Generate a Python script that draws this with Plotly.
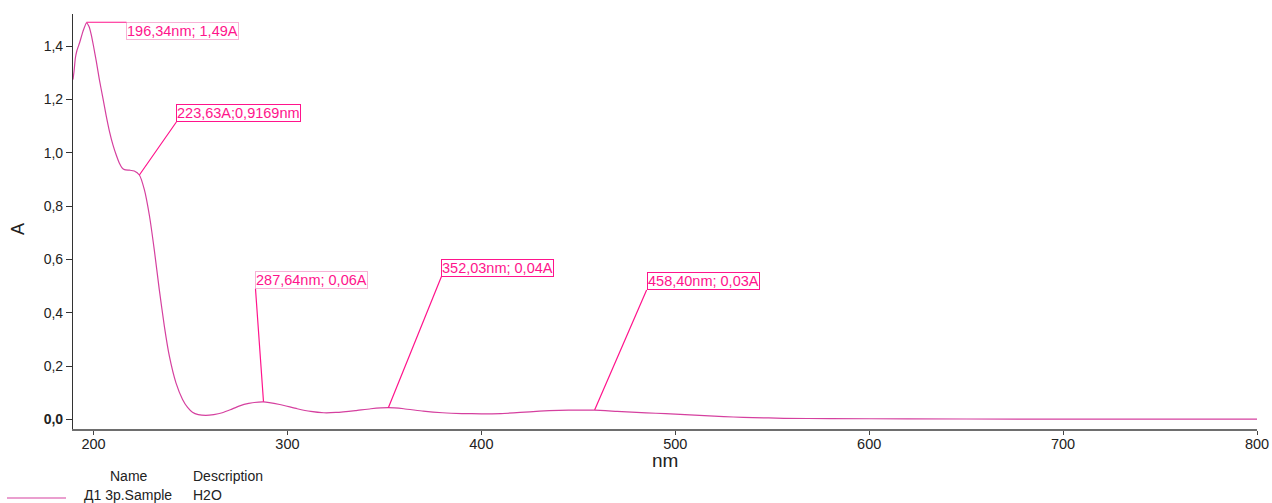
import plotly.graph_objects as go

# ---- data ----
wavelength_nm = [189.4, 190.0, 190.6, 191.4, 192.8, 194.5, 196.34, 197.6, 198.8, 200.0, 201.4,
                 203.0, 204.8, 206.5, 208.2, 210.0, 211.7, 213.4, 214.6, 216.0, 218.5, 221.0,
                 223.63, 226.2, 228.8, 231.3, 233.9, 236.5, 239.1, 242.5, 245.9, 248.5, 251.0,
                 254.0, 257.9, 262.0, 266.4, 270.5, 275.0, 280.0, 287.64, 296.0, 305.0, 312.0,
                 318.7, 325.0, 335.0, 343.0, 352.03, 360.0, 370.0, 380.0, 390.0, 400.0, 410.0,
                 420.0, 430.0, 440.0, 450.0, 458.4, 470.0, 480.0, 490.0, 500.0, 510.0, 520.0,
                 530.0, 540.0, 556.0, 580.0, 620.0, 680.0, 740.0, 800.0]
absorbance = [1.275, 1.31, 1.355, 1.383, 1.413, 1.455, 1.488, 1.475, 1.444, 1.40, 1.344,
              1.275, 1.206, 1.14, 1.081, 1.03, 0.992, 0.960, 0.945, 0.937, 0.935, 0.932,
              0.917, 0.862, 0.765, 0.637, 0.487, 0.350, 0.237, 0.137, 0.075, 0.045, 0.027,
              0.018, 0.015, 0.018, 0.025, 0.036, 0.050, 0.060, 0.066, 0.056, 0.040, 0.030,
              0.025, 0.026, 0.033, 0.040, 0.044, 0.040, 0.031, 0.025, 0.022, 0.021, 0.022,
              0.026, 0.031, 0.034, 0.035, 0.035, 0.030, 0.026, 0.023, 0.020, 0.016, 0.012,
              0.009, 0.007, 0.004, 0.003, 0.002, 0.001, 0.001, 0.001]

peak_nm = [196.34, 223.63, 287.64, 352.03, 458.40]
peak_A = [1.49, 0.9169, 0.066, 0.044, 0.035]
peak_labels = ["196,34nm; 1,49A", "223,63A;0,9169nm", "287,64nm; 0,06A",
               "352,03nm; 0,04A", "458,40nm; 0,03A"]

x_ticks = [200, 300, 400, 500, 600, 700, 800]
x_ticktext = ["200", "300", "400", "500", "600", "700", "800"]
y_ticks = [0.0, 0.2, 0.4, 0.6, 0.8, 1.0, 1.2, 1.4]
y_ticktext = ["<b>0,0</b>", "0,2", "0,4", "0,6", "0,8", "1,0", "1,2", "1,4"]

legend_name = "Д1 3р.Sample"
legend_desc = "H2O"

# ---- layout constants ----
W, H = 1272, 503
ML, MR, MT, MB = 73, 15, 14, 74
PW, PH = W - ML - MR, H - MT - MB

CURVE = "#d5409f"
PINK = "#ff148c"
LIGHT = "#f7b3d6"
FONT = "Liberation Sans, Arial, sans-serif"


def px_x(p):
    return (p - ML) / PW


def px_y(p):
    return (H - MB - p) / PH


fig = go.Figure()
fig.add_trace(go.Scatter(x=wavelength_nm, y=absorbance, mode="lines",
                         line=dict(color=CURVE, width=1.2, shape="spline", smoothing=0.5),
                         showlegend=False, hoverinfo="x+y"))

# annotation offsets (pixels) and box styles
offsets = [(40, 0), (37, -53), (-8, -113), (53, -131), (52, -120)]
yanchors = ["top", "bottom", "bottom", "bottom", "bottom"]
borders = [LIGHT, PINK, LIGHT, PINK, PINK]

annotations = []
for i in range(len(peak_nm)):
    annotations.append(dict(
        x=peak_nm[i], y=peak_A[i], xref="x", yref="y",
        text=peak_labels[i], showarrow=True, arrowhead=0, arrowwidth=1.2,
        arrowcolor=PINK, ax=offsets[i][0], ay=offsets[i][1],
        xanchor="left", yanchor=yanchors[i],
        font=dict(family=FONT, size=14.5, color=PINK),
        bordercolor=borders[i], borderwidth=1, borderpad=0, bgcolor="white"))

# axis titles
annotations.append(dict(x=px_x(18), y=px_y(229), xref="paper", yref="paper", text="A",
                        textangle=-90, showarrow=False, xanchor="center", yanchor="middle",
                        font=dict(family=FONT, size=18, color="#222")))
annotations.append(dict(x=px_x(665), y=px_y(460), xref="paper", yref="paper", text="nm",
                        showarrow=False, xanchor="center", yanchor="middle",
                        font=dict(family=FONT, size=19, color="#222")))

# legend table
leg_font = dict(family=FONT, size=14, color="#222")
annotations += [
    dict(x=px_x(129), y=px_y(476), xref="paper", yref="paper", text="Name",
         showarrow=False, xanchor="center", yanchor="middle", font=leg_font),
    dict(x=px_x(191), y=px_y(476), xref="paper", yref="paper", text="Description",
         showarrow=False, xanchor="left", yanchor="middle", font=leg_font),
    dict(x=px_x(82), y=px_y(495), xref="paper", yref="paper", text=legend_name,
         showarrow=False, xanchor="left", yanchor="middle", font=leg_font),
    dict(x=px_x(191), y=px_y(495), xref="paper", yref="paper", text=legend_desc,
         showarrow=False, xanchor="left", yanchor="middle", font=leg_font),
]

shapes = [dict(type="line", xref="paper", yref="paper", x0=px_x(7), x1=px_x(66),
               y0=px_y(498), y1=px_y(498), line=dict(color=CURVE, width=1.2))]

fig.update_layout(
    width=W, height=H, margin=dict(l=ML, r=MR, t=MT, b=MB, pad=0, autoexpand=False),
    paper_bgcolor="white", plot_bgcolor="white",
    separators=", ",
    font=dict(family=FONT, size=14, color="#222"),
    annotations=annotations, shapes=shapes, showlegend=False,
    xaxis=dict(range=[189.4, 800], tickvals=x_ticks, ticktext=x_ticktext,
               automargin=False,
               showgrid=False, zeroline=False, showline=True, linecolor="#6e6e6e",
               linewidth=2, ticks="outside", ticklen=4, tickcolor="#444", tickwidth=1,
               ticklabelstandoff=-3,
               tickfont=dict(family=FONT, size=14.5, color="#222")),
    yaxis=dict(range=[-0.036, 1.521], tickvals=y_ticks, ticktext=y_ticktext,
               automargin=False,
               showgrid=False, zeroline=False, showline=True, linecolor="#333",
               linewidth=1.2, ticks="outside", ticklen=6, tickcolor="#333", tickwidth=1,
               tickfont=dict(family=FONT, size=14, color="#222")),
)

fig.write_html("out.html")
